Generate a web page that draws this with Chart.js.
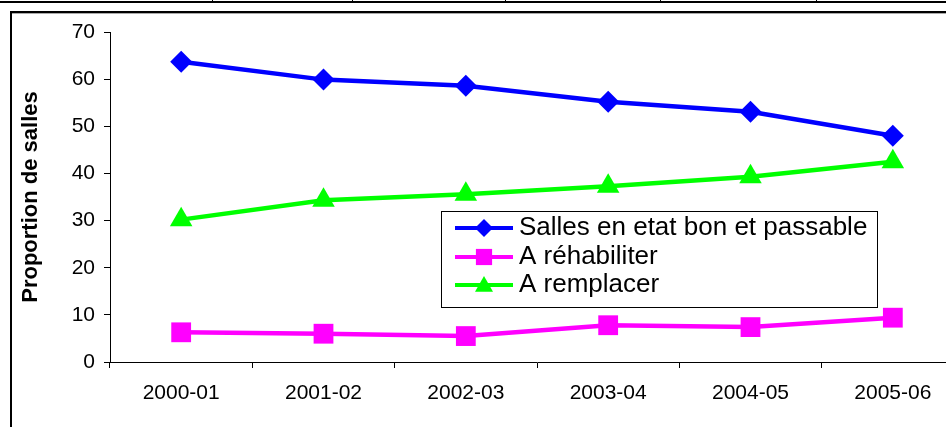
<!DOCTYPE html>
<html>
<head>
<meta charset="utf-8">
<script src="https://cdn.jsdelivr.net/npm/chart.js@4.4.0/dist/chart.umd.min.js"></script>
<style>
  html, body { margin: 0; padding: 0; background: #fff; overflow: hidden; }
  body { width: 946px; height: 427px; position: relative; }
  #wrap { position: absolute; left: 0; top: 0; width: 980px; height: 427px; }
  .ln { position: absolute; background: #000; }
</style>
</head>
<body>
<div id="wrap"><canvas id="chart" width="980" height="427"></canvas></div>
<!-- frame bits around the chart (table border above, chart border) -->
<div class="ln" style="left:0;top:1px;width:946px;height:2px"></div>
<div class="ln" style="left:212px;top:0;width:1px;height:3px"></div>
<div class="ln" style="left:352px;top:0;width:1px;height:3px"></div>
<div class="ln" style="left:505px;top:0;width:1px;height:3px"></div>
<div class="ln" style="left:660px;top:0;width:1px;height:3px"></div>
<div class="ln" style="left:816px;top:0;width:1px;height:3px"></div>
<div class="ln" style="left:10px;top:11px;width:936px;height:2px"></div>
<div class="ln" style="left:10px;top:13px;width:936px;height:1px;background:#aaa"></div>
<div class="ln" style="left:10px;top:11px;width:2px;height:416px"></div>
<script>
// data
const periods = ['2000-01', '2001-02', '2002-03', '2003-04', '2004-05', '2005-06'];
const bonPassable = [63.7, 59.9, 58.6, 55.2, 53.1, 48.0];
const aRehabiliter = [6.3, 6.0, 5.5, 7.8, 7.4, 9.4];
const aRemplacer = [30.2, 34.3, 35.6, 37.3, 39.3, 42.5];
const yTicks = [0, 10, 20, 30, 40, 50, 60, 70];

const FONT = "'Liberation Sans', Arial, sans-serif";

// small marker painter for the legend
function marker(ctx, style, x, y, r, color) {
    ctx.save();
    ctx.fillStyle = color;
    ctx.beginPath();
    if (style === 'rectRot') {
        ctx.moveTo(x, y - r); ctx.lineTo(x + r, y); ctx.lineTo(x, y + r); ctx.lineTo(x - r, y);
    } else if (style === 'rect') {
        ctx.rect(x - r * 0.9, y - r * 0.9, r * 1.8, r * 1.8);
    } else {
        ctx.moveTo(x, y - r); ctx.lineTo(x + r, y + r * 0.75); ctx.lineTo(x - r, y + r * 0.75);
    }
    ctx.closePath();
    ctx.fill();
    ctx.restore();
}

const boxLegend = {
    id: 'boxLegend',
    afterDraw(chart) {
        const ctx = chart.ctx;
        const bx = 441.5, by = 211.5, bw = 436, bh = 96;
        ctx.save();
        ctx.fillStyle = '#fff';
        ctx.fillRect(bx, by, bw, bh);
        ctx.strokeStyle = '#000';
        ctx.lineWidth = 1;
        ctx.strokeRect(bx, by, bw, bh);
        ctx.font = '26px ' + FONT;
        ctx.textBaseline = 'alphabetic';
        ctx.fillStyle = '#000';
        const rows = [235, 264, 292];
        chart.data.datasets.forEach(function(ds, i) {
            const cy = rows[i] - 7;
            ctx.strokeStyle = ds.borderColor;
            ctx.lineWidth = 4;
            ctx.beginPath();
            ctx.moveTo(455, cy);
            ctx.lineTo(513, cy);
            ctx.stroke();
            marker(ctx, ds.pointStyle, 484, cy, 9, ds.borderColor);
            ctx.fillStyle = '#000';
            ctx.fillText(ds.label, 519, rows[i]);
        });
        ctx.restore();
    }
};

const tickFont = { family: FONT, size: 21 };

new Chart(document.getElementById('chart').getContext('2d'), {
    type: 'line',
    data: {
        labels: periods,
        datasets: [
            {
                label: 'Salles en etat bon et passable',
                data: bonPassable,
                borderColor: '#0000ff',
                backgroundColor: '#0000ff',
                borderWidth: 4.5,
                pointStyle: 'rectRot',
                pointRadius: 11,
                pointBorderWidth: 0
            },
            {
                label: 'A réhabiliter',
                data: aRehabiliter,
                borderColor: '#ff00ff',
                backgroundColor: '#ff00ff',
                borderWidth: 4.5,
                pointStyle: 'rect',
                pointRadius: 14,
                pointBorderWidth: 0
            },
            {
                label: 'A remplacer',
                data: aRemplacer,
                borderColor: '#00ff00',
                backgroundColor: '#00ff00',
                borderWidth: 4.5,
                pointStyle: 'triangle',
                pointRadius: 13,
                pointBorderWidth: 0
            }
        ]
    },
    options: {
        responsive: false,
        animation: false,
        layout: { padding: { left: 0, top: 32, right: 16, bottom: 0 } },
        plugins: {
            legend: { display: false },
            tooltip: { enabled: false }
        },
        scales: {
            x: {
                offset: true,
                grid: { offset: true, drawOnChartArea: false, tickLength: 6, color: '#000' },
                border: { color: '#000', width: 1 },
                ticks: { font: tickFont, color: '#000', padding: 13, maxRotation: 0 },
                afterFit: function(s) { s.height = 65; }
            },
            y: {
                min: 0,
                max: 70,
                afterBuildTicks: function(s) { s.ticks = yTicks.map(v => ({ value: v })); },
                grid: { drawOnChartArea: false, tickLength: 6, color: '#000' },
                border: { color: '#000', width: 1 },
                ticks: { font: tickFont, color: '#000', padding: 9 },
                title: {
                    display: true,
                    text: 'Proportion de salles',
                    color: '#000',
                    font: { family: FONT, size: 22, weight: 'bold' },
                    padding: { top: 18, bottom: 0 }
                },
                afterFit: function(s) { s.width = 110; }
            }
        }
    },
    plugins: [boxLegend]
});
</script>
</body>
</html>
